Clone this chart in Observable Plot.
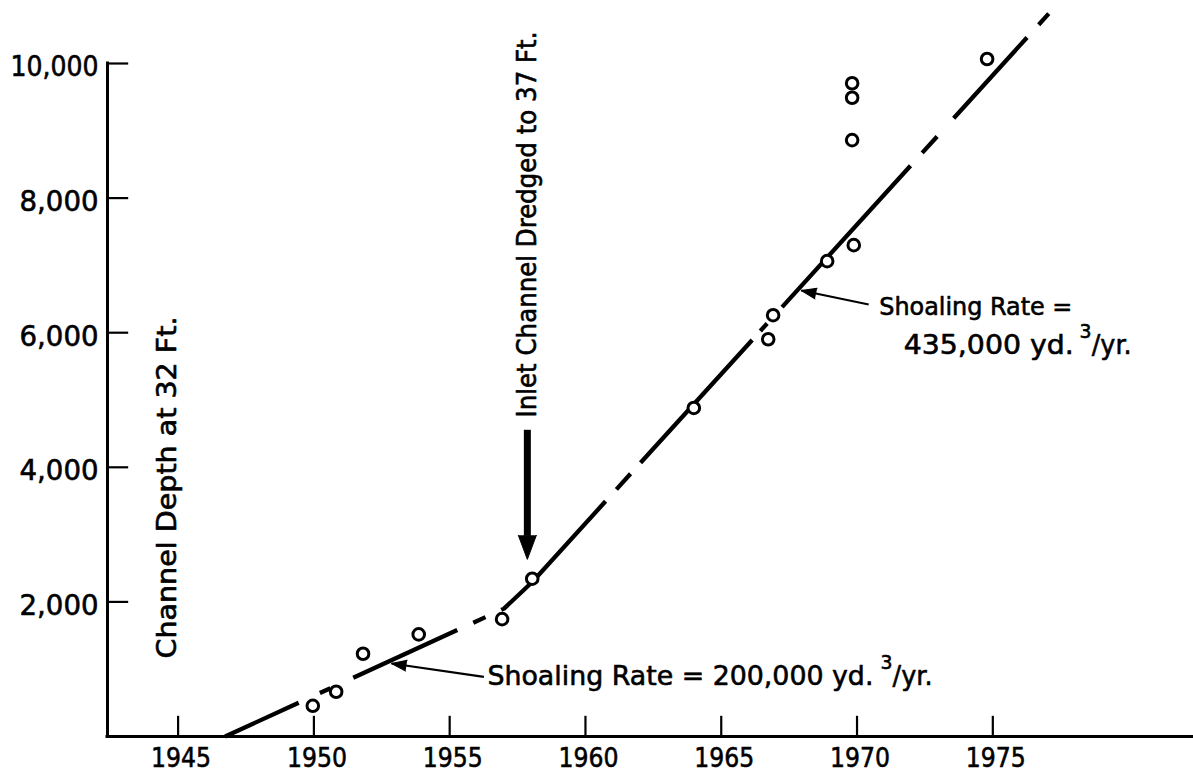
<!DOCTYPE html>
<html>
<head>
<meta charset="utf-8">
<script src="https://cdn.jsdelivr.net/npm/d3@7"></script>
<script src="https://cdn.jsdelivr.net/npm/@observablehq/plot@0.6"></script>
<style>
  html, body { margin: 0; padding: 0; background: #fff; }
  #chart svg { display: block; }
</style>
</head>
<body>
<div id="chart"></div>
<script>
// ---------------- DATA ----------------
// Surveyed cumulative shoaling volumes (thousand yd^3)
const surveyYears   = [1949.96, 1950.82, 1951.81, 1953.86, 1956.93, 1958.04, 1963.99, 1966.73, 1966.91, 1968.90, 1969.88, 1969.82, 1969.82, 1969.82, 1974.79];
const shoalVolumes  = [456, 665, 1230, 1517, 1744, 2345, 4882, 5903, 6260, 7063, 7301, 8862, 9491, 9706, 10067];

// Fitted trend line (vertices): 200,000 yd3/yr before dredging, 435,000 yd3/yr after
const trendYears    = [1946.73, 1957.0, 1958.04, 1977.06];
const trendVolumes  = [0, 1900, 2296, 10741];

// Visible (inked) pieces of the broken trend line, as year ranges
const trendDashYears = [
  [1946.73, 1949.44], [1950.22, 1950.61], [1951.45, 1955.28], [1955.87, 1956.32],
  [1956.90, 1960.74], [1961.14, 1961.66], [1962.03, 1966.14], [1966.44, 1966.69],
  [1967.24, 1971.97], [1972.40, 1972.95], [1973.56, 1976.26], [1976.69, 1977.06]
];

// Axis ticks
const xTicks = [1945, 1950, 1955, 1960, 1965, 1970, 1975];
const yTicks = [2000, 4000, 6000, 8000, 10000];

// Rotated annotations
const titleTexts = ["Channel Depth at 32 Ft.", "Inlet Channel Dredged to 37 Ft."];
const titleYears = [1944.60, 1957.86];
const titleVolumes = [1159, 4740];

// Shoaling-rate labels (pieces: text, superscript, unit)
const rateTexts   = ["Shoaling Rate = 200,000 yd.", "3", "/yr.", "Shoaling Rate =", "435,000 yd.", "3", "/yr."];
const rateYears   = [1956.39, 1970.86, 1971.31, 1970.82, 1971.72, 1978.19, 1978.64];
const rateVolumes = [758, 996, 758, 6256, 5686, 5925, 5686];

// Leader arrows from the labels to the trend line
const leaderFromYears = [1956.26, 1970.43];
const leaderFromVols  = [887, 6419];
const leaderToYears   = [1952.86, 1967.95];
const leaderToVols    = [1085, 6627];

// Dredging arrow
const dredgeYear = 1957.86;
const dredgeTop = 4550, dredgeBase = 2974, dredgeTip = 2632;

// ---------------- LAYOUT / STYLE ----------------
const W = 1193, H = 773;
const margin = {left: 107, right: 0, top: 63, bottom: 37};
const xDomain = [1942.40, 1982.39];
const yDomain = [0, 10000];
const letterFont = "'DejaVu Sans', 'Noto Sans', sans-serif";
const narrowFont = "'Liberation Sans Narrow', 'DejaVu Sans Condensed', 'Liberation Sans', sans-serif";
const titleSizes = [26, 27];
const titleLengths = [342, 386];
const rateSizes = [27, 20, 27, 24, 27, 20, 27];
const rateLengths = [386, 12, 40, 193, 170, 12, 40];
const xTickFont = 27, yTickFont = 28;

// scales identical to the ones Plot builds from the options below
const sx = d3.scaleLinear(xDomain, [margin.left, W - margin.right]);
const sy = d3.scaleLinear(yDomain, [H - margin.bottom, margin.top]);

// ---------------- DERIVED TABLES ----------------
const points = surveyYears.map((year, i) => ({year, volume: shoalVolumes[i]}));
const trend = trendYears.map((year, i) => ({year, volume: trendVolumes[i]}));
const titles = titleTexts.map((text, i) => ({text, year: titleYears[i], volume: titleVolumes[i], size: titleSizes[i]}));
const rateLabels = rateTexts.map((text, i) => ({text, year: rateYears[i], volume: rateVolumes[i], size: rateSizes[i]}));
const leaders = leaderFromYears.map((y1, i) => {
  const d = {x1: y1, y1: leaderFromVols[i], x2: leaderToYears[i], y2: leaderToVols[i]};
  const dx = sx(d.x2) - sx(d.x1), dy = sy(d.y2) - sy(d.y1);
  d.angle = Math.atan2(dx, -dy) * 180 / Math.PI;
  return d;
});
const dredge = [{year: dredgeYear, top: dredgeTop, base: dredgeBase, tip: dredgeTip}];

// dash pattern of the trend line, computed along its pixel path
const trendPx = trend.map(d => [sx(d.year), sy(d.volume)]);
const segLen = trendPx.slice(1).map((p, i) => Math.hypot(p[0] - trendPx[i][0], p[1] - trendPx[i][1]));
function lengthAt(year) {
  let s = 0;
  for (let i = 0; i < segLen.length; i++) {
    const a = trendYears[i], b = trendYears[i + 1];
    if (year <= b || i === segLen.length - 1) {
      const f = Math.max(0, Math.min(1, (year - a) / (b - a)));
      return s + f * segLen[i];
    }
    s += segLen[i];
  }
  return s;
}
const dashParts = [0];
let pos = 0;
for (const [a, b] of trendDashYears) {
  const sa = lengthAt(a), sb = lengthAt(b);
  dashParts.push(Math.max(0, sa - pos), Math.max(0, sb - sa));
  pos = sb;
}
dashParts.push(5000);
const dashString = dashParts.map(v => v.toFixed(2)).join(" ");

const fmtThousands = d3.format(",");

// ---------------- PLOT ----------------
const chart = Plot.plot({
  width: W,
  height: H,
  marginLeft: margin.left,
  marginRight: margin.right,
  marginTop: margin.top,
  marginBottom: margin.bottom,
  style: {fontFamily: letterFont, fontSize: xTickFont + "px", background: "#fff", color: "#000", overflow: "visible"},
  x: {domain: xDomain, label: null},
  y: {domain: yDomain, label: null},
  marks: [
    // axis lines and inward ticks
    Plot.ruleY([0], {x1: xDomain[0], x2: xDomain[1], stroke: "#000", strokeWidth: 3, strokeLinecap: "square"}),
    Plot.ruleX([xDomain[0]], {y1: 0, y2: 10000, stroke: "#000", strokeWidth: 3, strokeLinecap: "square"}),
    Plot.ruleY(yTicks, {x1: xDomain[0], x2: xDomain[0] + 0.78, stroke: "#000", strokeWidth: 2.2}),
    Plot.ruleX(xTicks, {y1: 0, y2: 300, stroke: "#000", strokeWidth: 2.2}),
    Plot.axisX({ticks: xTicks, tickSize: 0, tickPadding: 11, tickFormat: d => String(d), fontSize: xTickFont, dx: 3, label: null}),
    Plot.axisY({ticks: yTicks, tickSize: 0, tickPadding: 9, tickFormat: d => fmtThousands(d), fontSize: yTickFont, dy: 4, label: null}),

    // trend line
    Plot.line(trend, {x: "year", y: "volume", stroke: "#000", strokeWidth: 4.3, strokeDasharray: dashString, strokeLinecap: "butt"}),

    // survey points
    Plot.dot(points, {x: "year", y: "volume", r: 5.8, fill: "#fff", stroke: "#000", strokeWidth: 3}),

    // dredging arrow
    Plot.ruleX(dredge, {x: "year", y1: "top", y2: "base", stroke: "#000", strokeWidth: 7}),
    Plot.vector(dredge, {x: "year", y: "tip", length: 24, r: 9, rotate: 180, shape: "spike", anchor: "end", fill: "#000", stroke: "#000", strokeWidth: 1}),

    // leader arrows
    Plot.link(leaders, {x1: "x1", y1: "y1", x2: "x2", y2: "y2", stroke: "#000", strokeWidth: 2.2}),
    Plot.vector(leaders, {x: "x2", y: "y2", rotate: "angle", length: 15, r: 5.5, shape: "spike", anchor: "end", fill: "#000", stroke: "#000", strokeWidth: 1}),

    // annotations
    Plot.text(titles, {x: "year", y: "volume", text: "text", rotate: -90, textAnchor: "start", fontSize: "size", fontFamily: narrowFont, fill: "#000", stroke: "#000", strokeWidth: 0.6}),
    Plot.text(rateLabels, {x: "year", y: "volume", text: "text", textAnchor: "start", lineAnchor: "bottom", fontSize: "size", fontFamily: letterFont, fill: "#000", stroke: "#000", strokeWidth: 0.6})
  ]
});

document.getElementById("chart").appendChild(chart);

// fit lettering widths / weight to the reference
function fit(el, len) {
  if (!el || !len) return;
  el.setAttribute("textLength", len);
  el.setAttribute("lengthAdjust", "spacingAndGlyphs");
}
const textGroups = chart.querySelectorAll('g[aria-label="text"]');
if (textGroups[0]) textGroups[0].querySelectorAll("text").forEach((t, i) => fit(t, titleLengths[i]));
if (textGroups[1]) textGroups[1].querySelectorAll("text").forEach((t, i) => fit(t, rateLengths[i]));
chart.querySelectorAll('g[aria-label="x-axis tick label"]').forEach(g => g.setAttribute("font-size", xTickFont));
chart.querySelectorAll('g[aria-label="y-axis tick label"]').forEach(g => g.setAttribute("font-size", yTickFont));
chart.querySelectorAll('g[aria-label="x-axis tick label"], g[aria-label="y-axis tick label"]').forEach(g => {
  g.setAttribute("stroke", "#000");
  g.setAttribute("stroke-width", 0.6);
  g.setAttribute("fill", "#000");
});
chart.querySelectorAll('g[aria-label="x-axis tick label"] text').forEach(t => fit(t, 60));
chart.querySelectorAll('g[aria-label="y-axis tick label"] text').forEach(t => fit(t, t.textContent.length > 5 ? 88 : 79));
</script>
</body>
</html>
